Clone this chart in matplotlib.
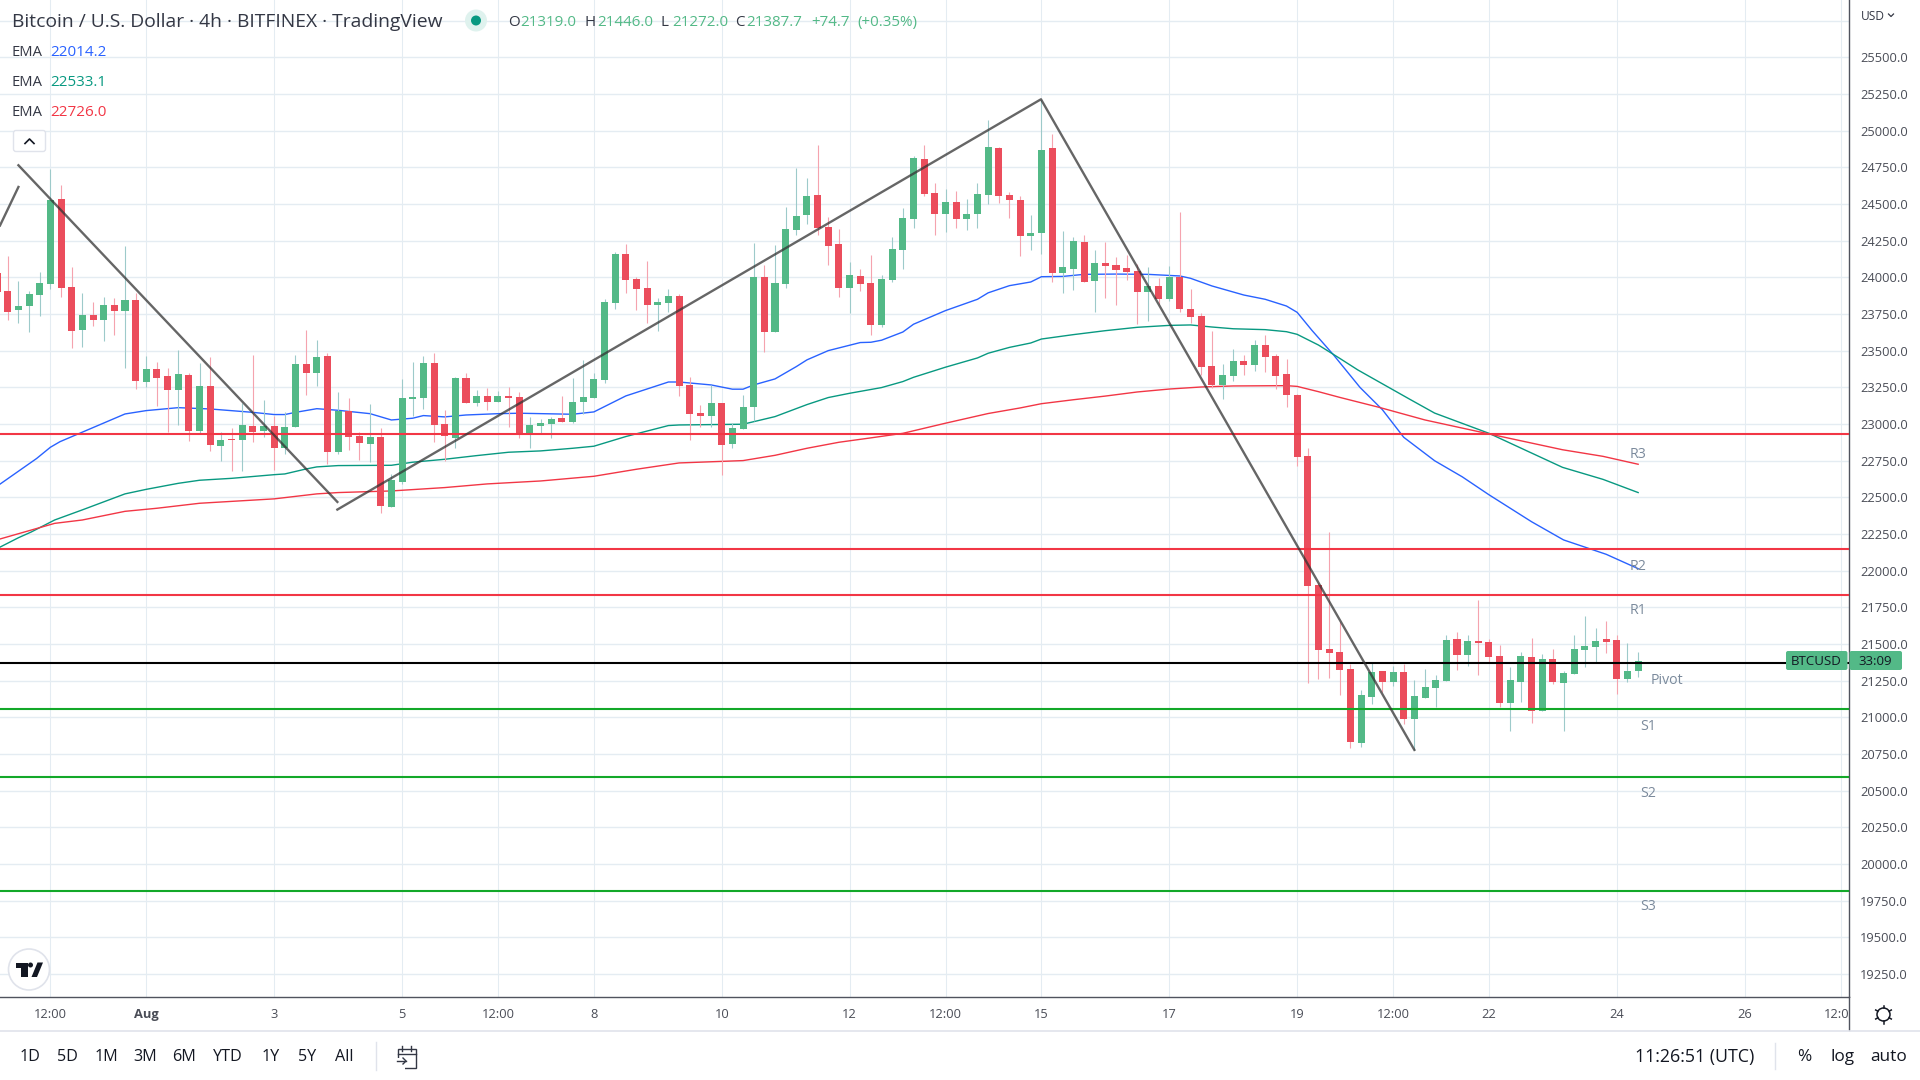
import matplotlib
matplotlib.use('Agg')
import matplotlib.pyplot as plt
from matplotlib.patches import Rectangle, Circle, FancyBboxPatch, Polygon
import numpy as np

plt.rcParams['font.family'] = ['Open Sans', 'DejaVu Sans']

# candles, one per 4h, index 0 = 1 Aug 00:00
bar_index = np.arange(-14, 141)

opens = [24028, 23908, 23778, 23806, 23881, 23956, 24535, 23935, 23642, 23744,
         23710, 23812, 23772, 23847, 23287, 23376, 23328, 23233, 23335, 22953,
         23260, 22851, 22899, 22892, 22987, 22953, 22987, 22837, 22981, 23410,
         23349, 23465, 22810, 23090, 22919, 22865, 22912, 22435, 22605, 23171,
         23178, 23417, 23001, 22905, 23315, 23144, 23192, 23151, 23192, 23185,
         22940, 22987, 23001, 23042, 23015, 23151, 23178, 23301, 23826, 24160,
         23990, 23928, 23812, 23826, 23874, 23267, 23076, 23056, 23144, 22865,
         22967, 23117, 24004, 23629, 23956, 24324, 24426, 24563, 24345, 24229,
         23929, 24010, 23963, 23676, 23983, 24188, 24399, 24808, 24576, 24433,
         24515, 24399, 24433, 24563, 24883, 24562, 24528, 24282, 24303, 24882,
         24030, 24057, 24242, 23976, 24098, 24085, 24064, 24044, 23901, 23941,
         23853, 24003, 23785, 23737, 23396, 23266, 23328, 23430, 23403, 23539,
         23464, 23341, 23198, 22782, 21903, 21466, 21446, 21330, 20825, 21139,
         21316, 21241, 21310, 20989, 21132, 21200, 21248, 21535, 21425, 21521,
         21514, 21419, 21098, 21241, 21412, 21044, 21398, 21234, 21296, 21460,
         21480, 21535, 21528, 21262, 21319]

highs = [24100, 24147, 23976, 23908, 24037, 24740, 24631, 24072, 23894, 23833,
         23867, 23860, 24215, 23894, 23465, 23424, 23383, 23506, 23349, 23417,
         23458, 22946, 22974, 23142, 23471, 23165, 23056, 23083, 23471, 23642,
         23574, 23485, 23219, 23178, 22946, 23137, 22974, 22660, 23308, 23424,
         23465, 23485, 23096, 23321, 23349, 23233, 23246, 23226, 23253, 23219,
         23049, 23035, 23049, 23192, 23315, 23437, 23349, 23853, 24174, 24228,
         24003, 24112, 23860, 23922, 23887, 23322, 23131, 23267, 23144, 23008,
         23199, 24235, 24085, 24222, 24481, 24747, 24679, 24904, 24413, 24331,
         24106, 24058, 24154, 24017, 24276, 24474, 24829, 24904, 24645, 24604,
         24590, 24535, 24645, 25074, 24890, 24582, 24555, 24426, 25210, 24978,
         24317, 24276, 24289, 24187, 24242, 24139, 24153, 24092, 24071, 23996,
         24078, 24446, 23921, 23757, 23635, 23410, 23512, 23471, 23573, 23607,
         23478, 23444, 23207, 22839, 21916, 22264, 21650, 21364, 21187, 21369,
         21316, 21350, 21364, 21255, 21330, 21289, 21562, 21582, 21562, 21800,
         21535, 21494, 21344, 21446, 21541, 21432, 21466, 21316, 21562, 21691,
         21610, 21657, 21562, 21507, 21446]

lows = [23800, 23710, 23692, 23628, 23737, 23922, 23867, 23519, 23526, 23669,
        23567, 23608, 23383, 23240, 23253, 23124, 22946, 22994, 22885, 22937,
        22817, 22749, 22680, 22680, 22878, 22915, 22687, 22796, 22981, 23199,
        23260, 22728, 22796, 22824, 22755, 22742, 22394, 22435, 22592, 23056,
        23103, 22878, 22749, 22837, 23144, 23124, 23096, 23151, 22981, 22905,
        22837, 22940, 22905, 23015, 23008, 23069, 23178, 23281, 23785, 23894,
        23778, 23690, 23635, 23765, 23192, 22892, 22981, 22981, 22653, 22838,
        22967, 23022, 23492, 23629, 23929, 24290, 24365, 24290, 24085, 23867,
        23758, 23908, 23608, 23663, 23970, 24058, 24338, 24556, 24290, 24310,
        24338, 24324, 24338, 24501, 24508, 24405, 24146, 24187, 24160, 23969,
        23894, 23914, 23969, 23764, 23860, 23812, 23982, 23682, 23703, 23819,
        23839, 23764, 23689, 23335, 23246, 23171, 23294, 23335, 23362, 23355,
        23239, 23116, 22716, 21237, 21262, 21269, 21153, 20791, 20798, 21091,
        21173, 21214, 20955, 20778, 21132, 21071, 21248, 21323, 21350, 21289,
        21378, 21071, 20907, 21105, 20962, 21044, 21228, 20907, 21296, 21344,
        21378, 21439, 21159, 21241, 21272]

closes = [23903, 23765, 23806, 23887, 23962, 24528, 23928, 23635, 23744, 23710,
          23812, 23772, 23847, 23294, 23376, 23315, 23233, 23342, 22953, 23260,
          22858, 22892, 22894, 22994, 22946, 22987, 22837, 22981, 23410, 23349,
          23458, 22810, 23090, 22912, 22871, 22912, 22442, 22619, 23178, 23185,
          23417, 22994, 22919, 23315, 23144, 23192, 23151, 23192, 23178, 22926,
          22994, 23008, 23035, 23015, 23151, 23185, 23308, 23833, 24160, 23983,
          23922, 23812, 23833, 23874, 23260, 23069, 23056, 23144, 22858, 22974,
          23117, 24004, 23629, 23963, 24331, 24420, 24556, 24338, 24215, 23929,
          24017, 23956, 23676, 23990, 24195, 24406, 24815, 24570, 24433, 24515,
          24399, 24433, 24570, 24890, 24556, 24528, 24282, 24303, 24869, 24030,
          24071, 24248, 23969, 24098, 24078, 24051, 24037, 23901, 23941, 23853,
          24003, 23785, 23730, 23389, 23266, 23335, 23430, 23403, 23539, 23457,
          23328, 23198, 22778, 21896, 21460, 21439, 21323, 20832, 21153, 21310,
          21241, 21310, 20989, 21146, 21207, 21255, 21528, 21425, 21521, 21507,
          21412, 21098, 21255, 21419, 21044, 21398, 21241, 21303, 21466, 21487,
          21521, 21514, 21262, 21316, 21387.7]

ema_blue_x = [-13.7, -10.3, -9, -8.1, -2, 0, 3, 6, 10, 12, 13, 14, 16, 18, 21, 23, 25, 26, 28, 30,
              33, 35, 40, 42, 45, 49, 50, 53, 55, 56, 57, 59, 61, 62, 64, 67, 68, 69, 71, 72,
              75, 78, 79, 81, 83, 84, 86, 88, 91, 94, 97, 98, 100, 103, 105, 107, 108, 109.4, 111.4,
              113.9, 116, 118, 120.9, 123.5, 126, 130, 133, 137, 140]
ema_blue_y = [22592, 22765, 22842, 22880, 23069, 23092, 23112, 23103, 23080, 23065, 23065, 23080, 23105, 23094,
              23071, 23028, 23040, 23058, 23049, 23062, 23071, 23074, 23067, 23083, 23192, 23287, 23287,
              23267, 23238, 23238, 23267, 23308, 23392, 23438, 23501, 23556, 23558, 23572, 23628, 23681,
              23774, 23851, 23895, 23944, 23969, 24005, 24007, 24021, 24023, 24021, 24010, 23994, 23942,
              23880, 23851, 23805, 23762, 23638, 23473, 23250, 23098, 22910, 22750, 22640, 22518, 22334,
              22210, 22112, 22014]

ema_green_x = [-13.7, -12, -10.8, -8.6, -6, -2, 0, 3, 5, 8, 12, 13, 15, 16, 18, 23, 25, 28, 31, 34, 37,
               40, 42, 45, 49, 50, 56, 59, 62, 64, 66, 69, 71, 72, 75, 78, 79, 81, 83, 84, 87, 90, 93,
               96, 98, 100, 102, 105, 107, 108, 110, 112, 113.7, 116.6, 118.6, 120.9, 126, 132.9, 136.7, 140]
ema_green_y = [22162, 22225, 22264, 22346, 22415, 22524, 22555, 22596, 22617, 22630, 22655, 22660, 22694,
               22708, 22717, 22719, 22740, 22760, 22785, 22808, 22817, 22835, 22849, 22915, 22990, 22994,
               22999, 23051, 23133, 23181, 23210, 23249, 23290, 23319, 23388, 23451, 23483, 23523, 23553,
               23580, 23610, 23637, 23660, 23673, 23676, 23662, 23650, 23644, 23630, 23612, 23539, 23448,
               23369, 23250, 23168, 23075, 22937, 22705, 22623, 22533]

ema_red_x = [-13.7, -8.6, -6, -2, 1, 5, 12, 16, 18, 23, 28, 32, 37, 42, 46, 50, 56, 59, 62, 65, 68, 71,
             75, 79, 82, 84, 87, 90, 93, 96, 99, 102, 107, 108, 110, 112, 115.7, 120, 126, 132.9, 136.7, 140]
ema_red_y = [22217, 22323, 22346, 22405, 22426, 22460, 22490, 22524, 22533, 22544, 22567, 22592, 22612,
             22644, 22692, 22735, 22751, 22787, 22835, 22876, 22906, 22937, 23006, 23072, 23110, 23139,
             23166, 23191, 23219, 23239, 23253, 23260, 23262, 23257, 23221, 23182, 23114, 23028, 22933,
             22825, 22780, 22726]

# pivot levels
resistance = [22933, 22148, 21836]
support = [21058, 20593, 19816]
pivot = 21374

# hand drawn trend lines
trend_lines = [([-13.73, -12.0], [24354, 24617]),
               ([-12.0, 17.93], [24765, 22469]),
               ([17.93, 83.96, 119.0], [22417, 25215, 20778])]

price_ticks = np.arange(19250, 25751, 250)
price_labels = ['%.1f' % p for p in price_ticks]
price_labels[-1] = ''

time_ticks = [-9, 0, 12, 24, 33, 42, 54, 66, 75, 84, 96, 108, 117, 126, 138, 150, 159]
time_labels = ['12:00', 'Aug', '3', '5', '12:00', '8', '10', '12', '12:00', '15', '17', '19', '12:00',
               '22', '24', '26', '12:00']

UP = '#53b987'
DOWN = '#eb4d5c'
TEXT = '#131722'
GRID = '#e4ecf2'
AXIS = '#50535e'
LABEL = '#7b8a9c'

fig = plt.figure(figsize=(19.2, 10.8), dpi=100, facecolor='white')
ax = fig.add_axes([0, 1 - 997 / 1080, 1848.5 / 1920, 997 / 1080])
ax.set_xlim(-13.73, 159.74)
ax.set_ylim(19093, 25892)

ax.set_yticks(price_ticks)
ax.set_yticklabels(price_labels)
ax.set_xticks(time_ticks)
ax.set_xticklabels(time_labels)
ax.yaxis.tick_right()
ax.tick_params(axis='y', length=0, pad=8.5, labelsize=9.3, labelcolor='#4a4d57')
ax.tick_params(axis='x', length=0, pad=8, labelsize=9.3, labelcolor='#4a4d57')
ax.get_xticklabels()[1].set_fontweight('bold')
ax.grid(axis='y', color=GRID, lw=1.0, zorder=0)
ax.grid(axis='x', color=GRID, lw=0.75, zorder=0)
ax.set_axisbelow(True)
for s in ['top', 'left']:
    ax.spines[s].set_visible(False)
for s in ['right', 'bottom']:
    ax.spines[s].set_color(AXIS)
    ax.spines[s].set_linewidth(1.0)

ax.plot(ema_blue_x, ema_blue_y, color='#2962ff', lw=1.0, zorder=2)
ax.plot(ema_green_x, ema_green_y, color='#089981', lw=1.0, zorder=2)
ax.plot(ema_red_x, ema_red_y, color='#f23645', lw=1.0, zorder=2)

o = np.array(opens, dtype=float)
c = np.array(closes, dtype=float)
up = c >= o
ax.vlines(bar_index[up], np.array(lows)[up], np.array(highs)[up], color='#9dcaca', lw=0.8, zorder=3)
ax.vlines(bar_index[~up], np.array(lows)[~up], np.array(highs)[~up], color='#f5a3ae', lw=0.8, zorder=3)
ax.bar(bar_index[up], (c - o)[up], bottom=o[up], width=0.66, color=UP, lw=0, zorder=4)
ax.bar(bar_index[~up], (c - o)[~up], bottom=o[~up], width=0.66, color=DOWN, lw=0, zorder=4)

for level in resistance:
    ax.axhline(level, color='#f23645', lw=1.5, zorder=5)
for level in support:
    ax.axhline(level, color='#13a829', lw=1.5, zorder=5)
ax.axhline(pivot, color='black', lw=1.5, zorder=5)

for xs, ys in trend_lines:
    ax.plot(xs, ys, color='#333333', lw=1.7, alpha=0.75, zorder=6)

# everything around the plot, in screen pixels
ui = fig.add_axes([0, 0, 1, 1], facecolor='none')
ui.set_xlim(0, 1920)
ui.set_ylim(1080, 0)
ui.axis('off')


def label(x, y, s, color=TEXT, size=9.3, ha='left', **kw):
    ui.text(x, y + 1.5, s, color=color, fontsize=size, ha=ha, va='center', **kw)


# cuts the last time label at the price axis
ui.add_patch(Rectangle((1849, 998), 71, 32, fc='white', ec='none'))
ui.plot([1848.5, 1848.5], [997, 1030], color=AXIS, lw=1.0)
ui.plot([0, 1920], [1031, 1031], color='#e0e3eb', lw=1.2)

label(11.5, 20.5, 'Bitcoin / U.S. Dollar · 4h · BITFINEX · TradingView', size=13.9, color='#333744')
ui.add_patch(Circle((476, 20.5), 11, fc='#dff2ee', ec='none'))
ui.add_patch(Circle((476, 20.5), 5, fc='#089981', ec='none'))
for x, s in [(508, 'O'), (585, 'H'), (661, 'L'), (735, 'C')]:
    label(x, 21, s, size=10.9, color='#333744')
for x, s in [(520, '21319.0'), (597, '21446.0'), (672, '21272.0'), (746, '21387.7'), (811, '+74.7'),
             (857, '(+0.35%)')]:
    label(x, 21, s, size=10.9, color=UP)

for y, val, col in [(51, '22014.2', '#2962ff'), (81, '22533.1', '#089981'), (111, '22726.0', '#f23645')]:
    label(11.5, y, 'EMA', size=10.6, color='#333744')
    label(50.5, y, val, size=11.0, color=col)

ui.add_patch(FancyBboxPatch((13.5, 130.5), 32, 21, boxstyle='round,pad=0,rounding_size=2.5', fc='white',
                            ec='#e0e3eb', lw=1.0, zorder=7))
ui.plot([25, 29.5, 34], [143.5, 139, 143.5], color=TEXT, lw=1.2, zorder=8)

ui.add_patch(Circle((29, 969.5), 20.5, fc='white', ec='#e0e3eb', lw=1.2, zorder=7))
ui.add_patch(Rectangle((15.5, 962.5), 12, 5, fc=TEXT, ec='none', zorder=8))
ui.add_patch(Rectangle((21, 962.5), 6.5, 14.5, fc=TEXT, ec='none', zorder=8))
ui.add_patch(Circle((30.5, 965), 2.5, fc=TEXT, ec='none', zorder=8))
ui.add_patch(Polygon([(37.5, 962.5), (43, 962.5), (37, 977), (31.5, 977)], fc=TEXT, ec='none', zorder=8))

for x, y, s in [(1638, 453, 'R3'), (1638, 565, 'R2'), (1638, 609, 'R1'), (1667, 679.5, 'Pivot'),
                (1648, 725, 'S1'), (1648, 792, 'S2'), (1648, 905.5, 'S3')]:
    label(x, y, s, color=LABEL, size=10.2, ha='center', zorder=9)

ui.add_patch(FancyBboxPatch((1786, 651), 61.5, 19, boxstyle='round,pad=0,rounding_size=2', fc=UP, ec='none', zorder=9))
ui.add_patch(FancyBboxPatch((1849.5, 651), 52.5, 19, boxstyle='round,pad=0,rounding_size=2', fc=UP, ec='none', zorder=9))
label(1816.5, 660, 'BTCUSD', size=9.5, ha='center', zorder=10)
label(1875.5, 660, '33:09', size=9.5, ha='center', zorder=10)

label(1860.5, 15, 'USD', size=8.6, color='#333744')
ui.plot([1888.5, 1891, 1893.5], [14, 16.5, 14], color='#333744', lw=0.9)

for x, s in [(30, '1D'), (67.4, '5D'), (106, '1M'), (145, '3M'), (183.7, '6M'), (227.8, 'YTD'), (270.7, '1Y'),
             (306.8, '5Y'), (344, 'All')]:
    label(x, 1055.5, s, size=11.6, ha='center')
ui.plot([375.5, 375.5], [1042, 1070], color='#e0e3eb', lw=1.0)

# go to date icon
ui.add_patch(Rectangle((397.5, 1049), 18, 19, fc='none', ec='#333744', lw=1.0))
ui.add_patch(Rectangle((396, 1058), 9, 12, fc='white', ec='none'))
ui.plot([397.5, 415.5], [1054, 1054], color='#333744', lw=1.0)
ui.plot([402, 402], [1046, 1051], color='#333744', lw=1.0)
ui.plot([411, 411], [1046, 1051], color='#333744', lw=1.0)
ui.plot([397, 406], [1061, 1061], color='#333744', lw=1.0)
ui.plot([403, 406, 403], [1058, 1061, 1064], color='#333744', lw=1.0)

label(1695, 1055.5, '11:26:51 (UTC)', size=12.8, ha='center')
ui.plot([1774.5, 1774.5], [1043, 1069], color='#e0e3eb', lw=1.0)
label(1804, 1055.5, '%', size=12.4, ha='center')
label(1842.5, 1055.5, 'log', size=12.4, ha='center')
label(1889, 1055.5, 'auto', size=12.4, ha='center')

# settings gear
ui.add_patch(Circle((1883.5, 1014.5), 6.5, fc='none', ec=TEXT, lw=1.1))
for a in np.deg2rad([0, 60, 120, 180, 240, 300]):
    ui.plot([1883.5 + 6.5 * np.sin(a), 1883.5 + 9 * np.sin(a)], [1014.5 - 6.5 * np.cos(a), 1014.5 - 9 * np.cos(a)],
            color=TEXT, lw=1.1)

fig.savefig('out.png', dpi=100)
